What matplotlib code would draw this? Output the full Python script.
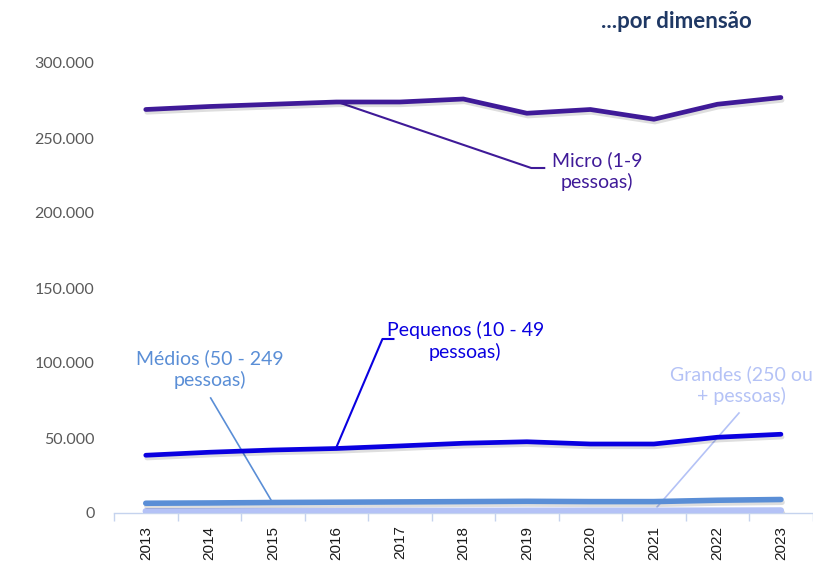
import matplotlib
matplotlib.use("Agg")
import matplotlib.pyplot as plt
import matplotlib.patheffects as pe
import numpy as np

years = ["2013", "2014", "2015", "2016", "2017", "2018", "2019", "2020", "2021", "2022", "2023"]
micro = [269000, 271000, 272500, 274000, 274000, 276000, 266500, 269000, 262500, 272500, 277000]
pequenos = [38500, 40500, 42000, 43000, 44700, 46500, 47500, 46000, 46000, 50500, 52500]
medios = [6500, 6700, 7000, 7200, 7400, 7600, 7800, 7600, 7600, 8500, 9000]
grandes = [1200, 1200, 1300, 1300, 1400, 1400, 1500, 1500, 1500, 1600, 1700]
yticks = [0, 50000, 100000, 150000, 200000, 250000, 300000]
ytick_labels = ["0", "50.000", "100.000", "150.000", "200.000", "250.000", "300.000"]

c_micro = "#3F1A98"
c_peq = "#0A00E0"
c_med = "#5A8ED6"
c_gra = "#B4C2F6"

W, H = 813, 562
fig = plt.figure(figsize=(W / 100, H / 100), dpi=100)
ax_left, ax_right, ax_bot, ax_top = 114, 813, 513, 63
ax = fig.add_axes([ax_left / W, 1 - ax_bot / H, (ax_right - ax_left) / W, (ax_bot - ax_top) / H])

x = np.arange(len(years))
shadow = [pe.SimpleLineShadow(offset=(0.8, -2.0), shadow_color="black", alpha=0.13), pe.Normal()]
for vals, col, lw in [(grandes, c_gra, 4.6), (medios, c_med, 4.0), (pequenos, c_peq, 3.4), (micro, c_micro, 3.4)]:
    ax.plot(x, vals, color=col, lw=lw, solid_capstyle="round", solid_joinstyle="round",
            path_effects=shadow, zorder=3)

ax.set_xlim(-0.5, len(years) - 0.5 + 0.005)
ax.set_ylim(0, 300000)
ax.set_yticks(yticks)
ax.set_yticklabels(ytick_labels)
ax.set_xticks(x)
ax.set_xticklabels(years, rotation=90, fontsize=11, color="#1a1a1a", family="Liberation Sans")
ax.set_xticks(np.arange(-0.5, len(years) + 0.5, 1), minor=True)
ax.tick_params(axis="x", which="major", length=0, pad=9)
ax.tick_params(axis="x", which="minor", length=6, color="#C5D3EE", width=1)
ax.tick_params(axis="y", length=0, pad=14, labelsize=11.5, labelcolor="#595959")
for lab in ax.get_yticklabels():
    lab.set_family("Lato")
for s in ["top", "right", "left"]:
    ax.spines[s].set_visible(False)
ax.spines["bottom"].set_color("#C5D3EE")
ax.spines["bottom"].set_linewidth(1)
ax.set_facecolor("none")


def px(xp, yp):
    return ((xp - 146) / 63.6, (513 - yp) / 1.5 * 1000)


def leader(points, col, lw=1.3):
    pts = [px(*p) for p in points]
    ax.plot([p[0] for p in pts], [p[1] for p in pts], color=col, lw=lw, zorder=2, clip_on=False)


fs = 14
ls = 1.3
leader([(341, 103), (532, 168), (545, 168)], c_micro, 1.5)
tx, ty = px(598, 171)
ax.text(tx, ty, "Micro (1-9\npessoas)", color=c_micro, fontsize=fs, family="Lato",
        ha="center", va="center", linespacing=ls)

leader([(337, 447), (383, 339), (394, 339)], c_peq, 1.5)
tx, ty = px(466, 341)
ax.text(tx, ty, "Pequenos (10 - 49\npessoas)", color=c_peq, fontsize=fs, family="Lato",
        ha="center", va="center", linespacing=ls)

leader([(211, 398), (272, 501)], c_med, 1.2)
tx, ty = px(210, 369)
ax.text(tx, ty, "Médios (50 - 249\npessoas)", color=c_med, fontsize=fs, family="Lato",
        ha="center", va="center", linespacing=ls)

leader([(740, 413), (658, 507)], c_gra, 1.2)
tx, ty = px(742, 385)
ax.text(tx, ty, "Grandes (250 ou\n+ pessoas)", color=c_gra, fontsize=fs, family="Lato",
        ha="center", va="center", linespacing=ls, clip_on=False)

fig.text(752 / W, 1 - 22 / H, "...por dimensão", color="#1F3864", fontsize=16,
         fontweight="bold", family="Lato", ha="right", va="center")

fig.savefig("out.png", dpi=100)
